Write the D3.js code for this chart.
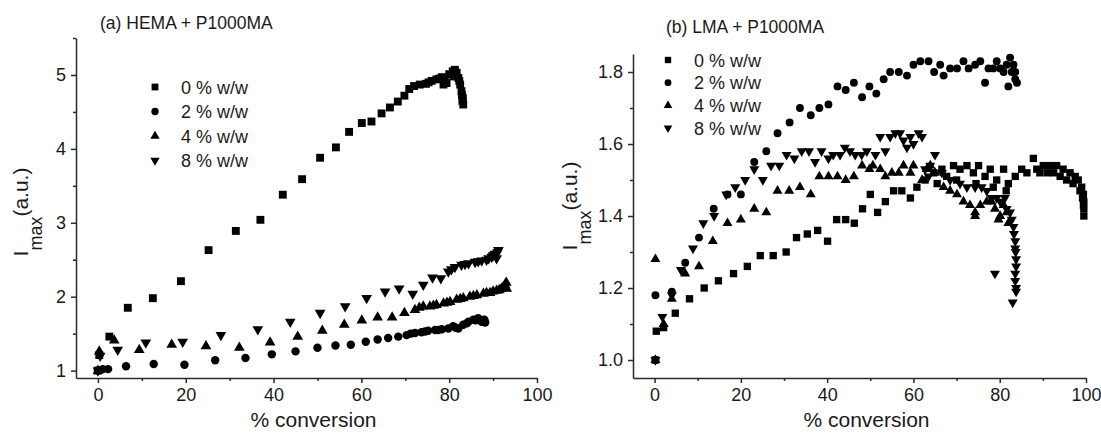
<!DOCTYPE html>
<html lang="en">
<head>
    <meta charset="UTF-8">
    <title>Imax vs conversion</title>
    <script src="https://cdnjs.cloudflare.com/ajax/libs/d3/7.8.5/d3.min.js"></script>
    <style>
        body { margin: 0; background: #fff; }
        svg text { font-family: "Liberation Sans", Arial, sans-serif; fill: #1a1a1a; }
    </style>
</head>
<body>
<svg id="chart" width="1101" height="438"></svg>

<script>
    // ---- data: [% conversion, Imax] ----
    const legendLabels = ["0 % w/w", "2 % w/w", "4 % w/w", "8 % w/w"];
    const symbolKinds = ["square", "circle", "up", "down"];

    // (a) HEMA + P1000MA
    const hema0 = [[0,1.0],[0.3,1.21],[2.6,1.46],[6.8,1.85],[12.5,1.98],[18.9,2.21],[25.2,2.63],[31.4,2.89],[37.0,3.04],
        [42.1,3.38],[46.5,3.59],[50.6,3.88],[54.2,4.02],[57.2,4.23],[60.1,4.35],[62.3,4.37],[64.6,4.48],[66.5,4.56],
        [68.3,4.64],[69.8,4.72],[70.9,4.81],[72.0,4.85],[73.3,4.87],[74.7,4.88],[75.3,4.90],[76.0,4.92],[77.1,4.94],
        [77.7,4.95],[78.3,4.97],[78.7,4.87],[79.0,4.93],[79.4,4.89],[80.0,5.01],[80.8,5.05],[81.0,4.98],[81.3,5.07],
        [81.7,5.03],[82.1,4.96],[82.3,4.92],[82.5,4.87],[82.8,4.78],[82.9,4.73],[83.0,4.65],[83.1,4.69],[83.2,4.60]];
    const hema2 = [[0,1.0],[1.1,1.02],[2.3,1.02],[6.4,1.06],[12.7,1.09],[19.7,1.08],[26.7,1.14],[33.6,1.17],[39.6,1.22],
        [45.0,1.26],[50.0,1.31],[54.1,1.34],[57.6,1.35],[61.0,1.39],[63.7,1.42],[66.1,1.44],[68.4,1.46],[70.3,1.48],
        [71.2,1.50],[72.2,1.51],[73.7,1.52],[74.5,1.53],[75.2,1.54],[76.8,1.55],[77.5,1.55],[78.3,1.56],[79.8,1.57],
        [80.9,1.60],[81.5,1.58],[82.1,1.57],[83.2,1.62],[84.0,1.64],[84.4,1.66],[85.5,1.69],[86.0,1.68],[86.6,1.71],
        [87.0,1.68],[87.4,1.66],[88.0,1.69],[88.2,1.65]];
    const hema4 = [[0,1.0],[0.3,1.26],[3.7,1.41],[9.4,1.28],[16.8,1.35],[24.6,1.33],[32.2,1.31],[39.2,1.38],[45.5,1.46],
        [51.1,1.54],[56.1,1.62],[60.1,1.68],[63.7,1.72],[67.0,1.72],[69.8,1.78],[72.2,1.82],[73.2,1.85],[74.1,1.87],
        [75.6,1.87],[76.4,1.88],[77.1,1.89],[78.7,1.91],[79.5,1.92],[80.2,1.93],[81.7,1.96],[82.5,1.97],[83.2,1.98],
        [84.7,2.00],[85.5,2.01],[86.3,2.02],[87.8,2.04],[88.5,2.05],[89.3,2.05],[90.0,2.07],[90.8,2.08],[91.4,2.09],
        [91.9,2.11],[92.3,2.13],[92.7,2.16],[93.0,2.19],[93.1,2.11]];
    const hema8 = [[0,1.0],[0.5,1.2],[4.5,1.28],[10.9,1.38],[19.3,1.39],[28.0,1.48],[36.4,1.56],[43.8,1.66],[50.6,1.78],
        [56.3,1.87],[61.2,1.98],[65.4,2.07],[68.6,2.11],[71.7,2.04],[74.1,2.16],[76.2,2.26],[78.1,2.25],[79.8,2.34],
        [80.5,2.37],[81.3,2.40],[82.8,2.43],[83.6,2.44],[84.4,2.45],[85.9,2.47],[86.6,2.48],[87.4,2.49],[88.5,2.50],
        [89.0,2.52],[89.7,2.54],[90.0,2.56],[90.4,2.58],[90.8,2.52],[91.0,2.60],[91.2,2.63]];

    // (b) LMA + P1000MA
    const lma0 = [[0.2,1.00],[0.4,1.08],[2.1,1.09],[4.8,1.13],[8.1,1.17],[11.5,1.20],[14.8,1.22],[18.3,1.24],[21.5,1.26],
        [24.5,1.29],[27.5,1.29],[30.5,1.30],[32.9,1.34],[35.4,1.35],[37.8,1.36],[40.1,1.33],[42.2,1.39],[44.3,1.39],
        [46.3,1.38],[48.2,1.42],[50.0,1.46],[51.7,1.41],[53.5,1.44],[55.4,1.47],[57.3,1.47],[59.3,1.45],[60.8,1.48],
        [62.7,1.50],[64.7,1.52],[65.5,1.49],[66.6,1.53],[67.7,1.51],[69.3,1.54],[70.0,1.50],[70.8,1.53],[72.4,1.54],
        [73.9,1.52],[74.5,1.49],[75.1,1.54],[76.6,1.51],[77.8,1.53],[78.5,1.48],[79.3,1.50],[80.9,1.53],[81.5,1.47],
        [82.0,1.49],[83.6,1.51],[85.1,1.53],[86.3,1.52],[87.8,1.56],[88.6,1.53],[89.3,1.52],[90.1,1.54],[91.0,1.52],
        [91.7,1.54],[92.5,1.52],[93.2,1.54],[94.0,1.51],[94.7,1.53],[95.5,1.50],[96.3,1.52],[97.0,1.49],[97.5,1.51],
        [98.2,1.50],[98.6,1.47],[99.0,1.48],[99.2,1.45],[99.4,1.46],[99.4,1.43],[99.5,1.44],[99.5,1.42],[99.5,1.40]];
    const lma2 = [[0.2,1.00],[0.2,1.18],[4.0,1.19],[7.1,1.27],[10.3,1.34],[13.7,1.42],[16.9,1.46],[20.0,1.46],[23.1,1.55],
        [25.9,1.58],[28.5,1.63],[31.3,1.66],[33.7,1.70],[36.2,1.68],[38.2,1.70],[40.3,1.71],[42.4,1.76],[44.3,1.75],
        [46.2,1.77],[48.1,1.73],[49.8,1.76],[51.4,1.74],[53.1,1.78],[54.6,1.80],[56.6,1.80],[58.5,1.79],[60.0,1.82],
        [61.6,1.83],[63.5,1.83],[64.8,1.80],[66.2,1.82],[67.0,1.79],[68.5,1.81],[70.1,1.81],[71.6,1.83],[72.8,1.81],
        [74.3,1.82],[75.5,1.83],[76.6,1.77],[77.4,1.81],[78.5,1.81],[79.3,1.83],[80.1,1.81],[80.9,1.80],[81.6,1.82],
        [82.0,1.76],[82.4,1.84],[82.8,1.80],[83.2,1.82],[83.6,1.78],[83.6,1.80],[84.0,1.77]];
    const lma4 = [[0.2,1.00],[0.2,1.28],[2.1,1.10],[4.0,1.17],[7.1,1.24],[10.3,1.26],[13.5,1.33],[16.9,1.38],[20.0,1.39],
        [23.1,1.42],[25.9,1.41],[28.5,1.47],[31.2,1.47],[33.7,1.48],[36.2,1.46],[38.2,1.51],[40.3,1.51],[42.4,1.51],
        [44.3,1.50],[46.2,1.51],[48.1,1.54],[49.8,1.53],[50.6,1.54],[52.3,1.53],[53.5,1.51],[55.0,1.52],[56.6,1.52],
        [57.7,1.54],[59.3,1.52],[60.0,1.54],[62.0,1.50],[63.1,1.53],[63.9,1.54],[65.0,1.52],[67.0,1.48],[68.5,1.47],
        [70.1,1.46],[71.6,1.44],[73.1,1.43],[74.3,1.41],[74.3,1.40],[75.5,1.43],[77.0,1.44],[78.1,1.44],[78.9,1.42],
        [79.7,1.39],[80.1,1.40],[80.9,1.43],[81.6,1.41],[82.0,1.38]];
    const lma8 = [[0.2,1.00],[1.8,1.12],[4.0,1.18],[6.1,1.25],[8.9,1.31],[11.3,1.38],[13.8,1.40],[16.6,1.46],[18.7,1.48],
        [21.0,1.50],[23.1,1.53],[25.1,1.50],[27.0,1.54],[28.9,1.54],[30.6,1.57],[32.4,1.56],[34.1,1.58],[35.8,1.58],
        [37.2,1.55],[38.7,1.58],[40.3,1.56],[41.4,1.57],[43.0,1.57],[44.1,1.59],[45.3,1.58],[46.5,1.57],[48.0,1.57],
        [49.2,1.58],[51.2,1.57],[52.3,1.62],[53.5,1.58],[54.6,1.62],[55.8,1.63],[56.9,1.63],[57.7,1.61],[58.5,1.59],
        [59.3,1.62],[60.0,1.60],[61.2,1.63],[62.0,1.62],[62.7,1.53],[63.5,1.51],[63.9,1.54],[65.0,1.57],[66.6,1.52],
        [68.5,1.50],[70.8,1.49],[72.4,1.48],[74.3,1.48],[75.8,1.48],[77.0,1.47],[78.1,1.45],[78.9,1.24],[79.3,1.45],
        [80.1,1.44],[81.2,1.45],[81.6,1.42],[82.4,1.41],[82.8,1.39],[83.2,1.37],[83.3,1.35],[83.6,1.33],[83.6,1.31],
        [83.7,1.30],[83.8,1.28],[83.8,1.26],[83.6,1.24],[83.6,1.22],[83.8,1.20],[83.8,1.19],[83.0,1.16]];

    const xTicks = [0, 20, 40, 60, 80, 100];
    const xMinor = [10, 30, 50, 70, 90];
    const hemaYTicks = [1, 2, 3, 4, 5];
    const hemaYMinor = [1.5, 2.5, 3.5, 4.5, 5.5];
    const lmaYTicks = [1.0, 1.2, 1.4, 1.6, 1.8];
    const lmaYMinor = [1.1, 1.3, 1.5, 1.7];

    const svg = d3.select("#chart");
    const axisColor = "#2a2a2a";

    function symbolPath(kind, size) {
        if (kind === "square") return d3.symbol(d3.symbolSquare, size)();
        if (kind === "circle") return d3.symbol(d3.symbolCircle, size * 0.9)();
        return d3.symbol(d3.symbolTriangle, size * 0.8)();
    }

    function drawPanel(cfg) {
        const g = svg.append("g");
        const x = d3.scaleLinear().domain([-5, 100]).range([cfg.left, cfg.right]);
        const y = d3.scaleLinear().domain(cfg.yDomain).range([cfg.bottom, cfg.top]);

        // x axis
        g.append("g").attr("transform", `translate(0,${cfg.bottom})`)
            .call(d3.axisBottom(x).tickValues(xTicks).tickSize(5).tickPadding(5).tickSizeOuter(0));
        g.append("g").attr("transform", `translate(0,${cfg.bottom})`)
            .call(d3.axisBottom(x).tickValues(xMinor).tickSize(3).tickFormat("").tickSizeOuter(0))
            .select(".domain").remove();

        // y axis
        g.append("g").attr("transform", `translate(${cfg.left},0)`)
            .call(d3.axisLeft(y).tickValues(cfg.yTicks).tickSize(5).tickPadding(5).tickSizeOuter(0)
                .tickFormat(cfg.yFormat));
        g.append("g").attr("transform", `translate(${cfg.left},0)`)
            .call(d3.axisLeft(y).tickValues(cfg.yMinor).tickSize(3).tickFormat("").tickSizeOuter(0))
            .select(".domain").remove();

        g.selectAll(".domain, .tick line").attr("stroke", axisColor).attr("stroke-width", 1.5);
        g.selectAll(".tick text").attr("font-size", 18).attr("fill", "#1a1a1a")
            .style("font-family", '"Liberation Sans", Arial, sans-serif');

        // titles and labels
        g.append("text").attr("x", cfg.titleX).attr("y", cfg.titleY)
            .attr("font-size", 17.5).text(cfg.title);

        g.append("text").attr("x", (cfg.left + cfg.right) / 2 + 7).attr("y", 427)
            .attr("text-anchor", "middle").attr("font-size", 21).text("% conversion");

        const yl = g.append("text")
            .attr("transform", `translate(${cfg.yLabelX},${cfg.yLabelY}) rotate(-90)`)
            .attr("text-anchor", "middle").attr("font-size", 21);
        yl.append("tspan").text("I");
        yl.append("tspan").attr("dy", 14).attr("font-size", 18).text("max");
        yl.append("tspan").attr("dy", -14).text("(a.u.)");

        // data points
        cfg.series.forEach((data, i) => {
            const kind = symbolKinds[i];
            g.append("g").selectAll("path").data(data).enter().append("path")
                .attr("d", symbolPath(kind, cfg.markSize))
                .attr("transform", d => `translate(${x(d[0])},${y(d[1])})` + (kind === "down" ? " rotate(180)" : ""))
                .attr("fill", "#000");
        });

        // legend
        legendLabels.forEach((lab, i) => {
            const kind = symbolKinds[i];
            const ly = cfg.legendY + i * cfg.legendStep;
            g.append("path").attr("d", symbolPath(kind, cfg.markSize * 0.75))
                .attr("transform", `translate(${cfg.legendX},${ly})` + (kind === "down" ? " rotate(180)" : ""))
                .attr("fill", "#000");
            g.append("text").attr("x", cfg.legendX + 26).attr("y", ly + 6.5)
                .attr("font-size", 18).text(lab);
        });
    }

    drawPanel({
        left: 76, right: 537, top: 38, bottom: 378,
        yDomain: [0.9, 5.5], yTicks: hemaYTicks, yMinor: hemaYMinor, yFormat: d3.format("d"),
        title: "(a) HEMA + P1000MA", titleX: 100, titleY: 29,
        yLabelX: 28, yLabelY: 212,
        series: [hema0, hema2, hema4, hema8], markSize: 62,
        legendX: 155, legendY: 87, legendStep: 24.5
    });

    drawPanel({
        left: 633, right: 1086, top: 54, bottom: 378,
        yDomain: [0.95, 1.85], yTicks: lmaYTicks, yMinor: lmaYMinor, yFormat: d3.format(".1f"),
        title: "(b) LMA + P1000MA", titleX: 666, titleY: 33,
        yLabelX: 577, yLabelY: 206,
        series: [lma0, lma2, lma4, lma8], markSize: 54,
        legendX: 668, legendY: 60, legendStep: 22.7
    });
</script>
</body>
</html>
